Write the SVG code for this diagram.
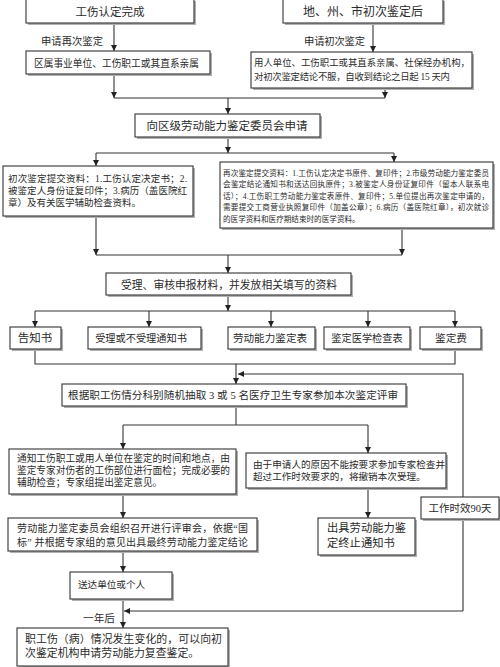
<svg xmlns="http://www.w3.org/2000/svg" width="500" height="667" viewBox="0 0 500 667">
<style>
.bx{fill:#fff;stroke:#333;stroke-width:1.1}
.sh{fill:#b0b0b0;stroke:none}
.t{font-family:"Liberation Serif","Noto Sans CJK SC",serif;fill:#2a2a2a;dominant-baseline:central}
.c{text-anchor:middle}
.ln{fill:none;stroke:#333;stroke-width:1.1}
.ar{marker-end:url(#ah)}
</style>
<defs>
<marker id="ah" viewBox="0 0 10 10" refX="10" refY="5" markerWidth="6" markerHeight="6" markerUnits="userSpaceOnUse" orient="auto">
<path d="M0,0 L10,5 L0,10 z" fill="#222"/>
</marker>
</defs>
<rect width="500" height="667" fill="#fff"/>

<g id="connectors">
<path class="ln ar" d="M114,23 V51"/>
<path class="ln ar" d="M373,23 V52"/>
<path class="ln ar" d="M114,74 V98"/>
<path class="ln ar" d="M385,88 V98"/>
<path class="ln" d="M114,98 H385"/>
<path class="ln ar" d="M228,98 V114"/>
<path class="ln ar" d="M228,137 V153"/>
<path class="ln" d="M96,153 H394"/>
<path class="ln ar" d="M96,153 V166"/>
<path class="ln ar" d="M394,153 V162"/>
<path class="ln ar" d="M96,216 V255"/>
<path class="ln ar" d="M402,228 V255"/>
<path class="ln" d="M96,255 H402"/>
<path class="ln ar" d="M228,255 V273"/>
<path class="ln ar" d="M228,295 V311"/>
<path class="ln" d="M35,311 H455"/>
<path class="ln ar" d="M35,311 V327"/>
<path class="ln ar" d="M149,311 V327"/>
<path class="ln ar" d="M271,311 V327"/>
<path class="ln ar" d="M368,311 V327"/>
<path class="ln ar" d="M455,311 V327"/>
<path class="ln" d="M35,349 V364 H455 V349"/>
<path class="ln ar" d="M236,364 V384"/>
<path class="ln ar" d="M463,611 V374 H238"/>
<path class="ln ar" d="M463,611 H124"/>
<path class="ln" d="M236,406 V425"/>
<path class="ln" d="M123,425 H368"/>
<path class="ln ar" d="M123,425 V449"/>
<path class="ln ar" d="M368,425 V453"/>
<path class="ln ar" d="M368,488 V518"/>
<path class="ln ar" d="M123,494 V518"/>
<path class="ln ar" d="M123,551 V572"/>
<path class="ln ar" d="M123,599 V628"/>
</g>

<g id="lbl1"><text class="t" x="41" y="41" font-size="10.3" textLength="62">申请再次鉴定</text></g>
<g id="lbl2"><text class="t" x="304" y="41" font-size="10.3" textLength="61">申请初次鉴定</text></g>
<g id="lbl3"><text class="t" x="83" y="618" font-size="10.7" textLength="32">一年后</text></g>

<g id="n1">
<rect class="sh" x="28" y="1" width="168" height="24"/>
<rect class="bx" x="26" y="-1" width="168" height="24"/>
<text class="t c" x="110" y="12" font-size="11.5">工伤认定完成</text>
</g>
<g id="n2">
<rect class="sh" x="28" y="53" width="184" height="23"/>
<rect class="bx" x="26" y="51" width="184" height="23"/>
<text class="t" x="34" y="63" font-size="9.7" textLength="165">区属事业单位、工伤职工或其直系亲属</text>
</g>
<g id="n3">
<rect class="sh" x="285" y="1" width="160" height="24"/>
<rect class="bx" x="283" y="-1" width="160" height="24"/>
<text class="t c" x="363" y="12" font-size="12">地、州、市初次鉴定后</text>
</g>
<g id="n4">
<rect class="sh" x="253" y="54" width="221" height="36"/>
<rect class="bx" x="251" y="52" width="221" height="36"/>
<text class="t" x="254" y="63" font-size="9.4" textLength="216">用人单位、工伤职工或其直系亲属、社保经办机构，</text>
<text class="t" x="254" y="77" font-size="9.4" textLength="196">对初次鉴定结论不服，自收到结论之日起 15 天内</text>
</g>
<g id="n5">
<rect class="sh" x="137" y="116" width="185" height="23"/>
<rect class="bx" x="135" y="114" width="185" height="23"/>
<text class="t c" x="227" y="126" font-size="11.5">向区级劳动能力鉴定委员会申请</text>
</g>
<g id="n6">
<rect class="sh" x="5" y="168" width="190" height="50"/>
<rect class="bx" x="3" y="166" width="190" height="50"/>
<text class="t" x="8" y="179" font-size="9.5" textLength="179">初次鉴定提交资料：1.工伤认定决定书；2.</text>
<text class="t" x="8" y="191" font-size="9.5" textLength="179">被鉴定人身份证复印件；3.病历（盖医院红</text>
<text class="t" x="8" y="203" font-size="9.5">章）及有关医学辅助检查资料。</text>
</g>
<g id="n7">
<rect class="sh" x="222" y="164" width="273" height="66"/>
<rect class="bx" x="220" y="162" width="273" height="66"/>
<text class="t" x="223" y="173" font-size="7.6" textLength="266">再次鉴定提交资料：1.工伤认定决定书原件、复印件；2.市级劳动能力鉴定委员</text>
<text class="t" x="223" y="184.5" font-size="7.6" textLength="266">会鉴定结论通知书和送达回执原件；3.被鉴定人身份证复印件（留本人联系电</text>
<text class="t" x="223" y="196" font-size="7.6" textLength="266">话）；4.工伤职工劳动能力鉴定表原件、复印件；5.单位提出再次鉴定申请的，</text>
<text class="t" x="223" y="207.5" font-size="7.6" textLength="266">需要提交工商营业执照复印件（加盖公章）；6.病历（盖医院红章），初次就诊</text>
<text class="t" x="223" y="219" font-size="7.6">的医学资料和医疗期结束时的医学资料。</text>
</g>
<g id="n8">
<rect class="sh" x="108" y="275" width="245" height="22"/>
<rect class="bx" x="106" y="273" width="245" height="22"/>
<text class="t c" x="229" y="285" font-size="10.8" textLength="216">受理、审核申报材料，并发放相关填写的资料</text>
</g>
<g id="n9">
<rect class="sh" x="12" y="329" width="51" height="22"/>
<rect class="bx" x="10" y="327" width="51" height="22"/>
<text class="t c" x="35" y="338" font-size="11.5">告知书</text>
</g>
<g id="n10">
<rect class="sh" x="90" y="329" width="113" height="22"/>
<rect class="bx" x="88" y="327" width="113" height="22"/>
<text class="t c" x="141" y="338" font-size="10.2">受理或不受理通知书</text>
</g>
<g id="n11">
<rect class="sh" x="230" y="329" width="87" height="22"/>
<rect class="bx" x="228" y="327" width="87" height="22"/>
<text class="t c" x="270" y="338" font-size="10.6">劳动能力鉴定表</text>
</g>
<g id="n12">
<rect class="sh" x="326" y="329" width="86" height="22"/>
<rect class="bx" x="324" y="327" width="86" height="22"/>
<text class="t c" x="367" y="338" font-size="10.2">鉴定医学检查表</text>
</g>
<g id="n13">
<rect class="sh" x="422" y="329" width="61" height="22"/>
<rect class="bx" x="420" y="327" width="61" height="22"/>
<text class="t c" x="451" y="338" font-size="10.7">鉴定费</text>
</g>
<g id="n14">
<rect class="sh" x="64" y="386" width="344" height="22"/>
<rect class="bx" x="62" y="384" width="344" height="22"/>
<text class="t" x="68" y="395" font-size="10.6" textLength="330">根据职工伤情分科别随机抽取 3 或 5 名医疗卫生专家参加本次鉴定评审</text>
</g>
<g id="n15">
<rect class="sh" x="11" y="451" width="227" height="45"/>
<rect class="bx" x="9" y="449" width="227" height="45"/>
<text class="t" x="17" y="458" font-size="9.7" textLength="213">通知工伤职工或用人单位在鉴定的时间和地点，由</text>
<text class="t" x="17" y="470" font-size="9.7" textLength="213">鉴定专家对伤者的工伤部位进行面检；完成必要的</text>
<text class="t" x="17" y="482" font-size="9.7">辅助检查；专家组提出鉴定意见。</text>
</g>
<g id="n16">
<rect class="sh" x="248" y="455" width="200" height="35"/>
<rect class="bx" x="246" y="453" width="200" height="35"/>
<text class="t" x="253" y="464" font-size="9.6" textLength="192">由于申请人的原因不能按要求参加专家检查并</text>
<text class="t" x="253" y="476" font-size="9.6">超过工作时效要求的，将撤销本次受理。</text>
</g>
<g id="n17">
<rect class="sh" x="320" y="520" width="97" height="37"/>
<rect class="bx" x="318" y="518" width="97" height="37"/>
<text class="t" x="327" y="528" font-size="11.3">出具劳动能力鉴</text>
<text class="t" x="327" y="543" font-size="11.3">定终止通知书</text>
</g>
<g id="n18">
<rect class="sh" x="10" y="520" width="249" height="33"/>
<rect class="bx" x="8" y="518" width="249" height="33"/>
<text class="t" x="17" y="528" font-size="10" textLength="231">劳动能力鉴定委员会组织召开进行评审会，依据“国</text>
<text class="t" x="17" y="542" font-size="10" textLength="231">标” 并根据专家组的意见出具最终劳动能力鉴定结论</text>
</g>
<g id="n19">
<rect class="sh" x="423" y="499" width="78" height="22"/>
<rect class="bx" x="421" y="497" width="78" height="22"/>
<text class="t c" x="460" y="508" font-size="10.5">工作时效90天</text>
</g>
<g id="n20">
<rect class="sh" x="72" y="574" width="102" height="27"/>
<rect class="bx" x="70" y="572" width="102" height="27"/>
<text class="t" x="78" y="584" font-size="9.6">送达单位或个人</text>
</g>
<g id="n21">
<rect class="sh" x="19" y="630" width="211" height="38"/>
<rect class="bx" x="17" y="628" width="211" height="38"/>
<text class="t" x="25" y="639" font-size="10.9" textLength="197">职工伤（病）情况发生变化的，可以向初</text>
<text class="t" x="25" y="653" font-size="10.9">次鉴定机构申请劳动能力复查鉴定。</text>
</g>
</svg>
